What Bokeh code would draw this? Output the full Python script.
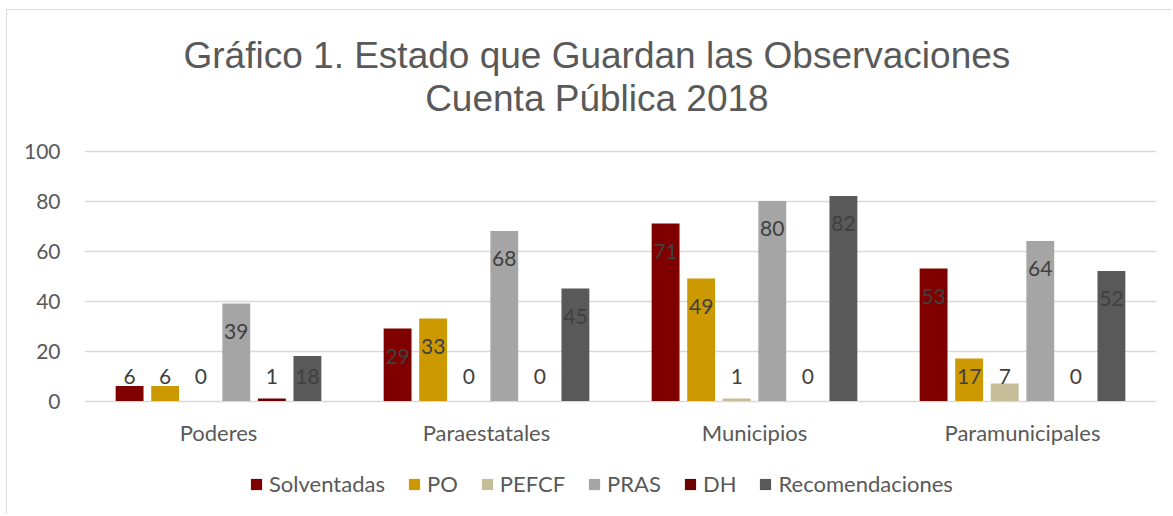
from bokeh.plotting import figure
from bokeh.models import (FactorRange, ColumnDataSource, Label, Legend, LegendItem,
                          FixedTicker, CategoricalAxis)
from bokeh.transform import dodge
from bokeh.core.properties import value
from bokeh.embed import file_html
from bokeh.resources import INLINE

categories = ["Poderes", "Paraestatales", "Municipios", "Paramunicipales"]
series = ["Solventadas", "PO", "PEFCF", "PRAS", "DH", "Recomendaciones"]
solventadas = [6, 29, 71, 53]
po = [6, 33, 49, 17]
pefcf = [0, 0, 1, 7]
pras = [39, 68, 80, 64]
dh = [1, 0, 0, 0]
recomendaciones = [18, 45, 82, 52]
colors = ["#800000", "#CC9900", "#C4BD97", "#A5A5A5", "#6B0000", "#595959"]
y_ticks = [0, 20, 40, 60, 80, 100]
title_lines = ["Gráfico 1. Estado que Guardan las Observaciones", "Cuenta Pública 2018"]

values_by_series = [solventadas, po, pefcf, pras, dh, recomendaciones]

FONT = "Lato"
GREY = "#595959"

p = figure(x_range=FactorRange(*categories, range_padding=0), y_range=(-45.8, 156.2),
           width=1165, height=505, output_backend="svg", toolbar_location=None,
           title=None, x_axis_location=None,
           min_border_left=77, min_border_right=16, min_border_top=0,
           min_border_bottom=0)
p.styles = {"border-top": "1.5px solid #d9d9d9", "border-left": "1.5px solid #d9d9d9",
            "margin-left": "6px", "margin-top": "9px"}
p.outline_line_color = None
p.background_fill_color = "white"
p.border_fill_color = "white"

xaxis = CategoricalAxis(fixed_location=0)
p.add_layout(xaxis, "below")

p.xgrid.grid_line_color = None
p.ygrid.grid_line_color = "#d9d9d9"
p.ygrid.grid_line_width = 1.5
p.yaxis.ticker = FixedTicker(ticks=y_ticks)
for ax in (xaxis, p.yaxis[0]):
    ax.axis_line_color = None
    ax.major_tick_line_color = None
    ax.minor_tick_line_color = None
    ax.major_label_text_font = FONT
    ax.major_label_text_color = GREY
p.yaxis.major_label_text_font_size = "21px"
p.yaxis.major_label_standoff = 18
xaxis.major_label_text_font_size = "22px"
xaxis.major_label_standoff = 12

slot = 0.1327
bar_w = 0.104
n = len(series)
items = []
for i, (name, vals, col) in enumerate(zip(series, values_by_series, colors)):
    off = (i - (n - 1) / 2) * slot
    label_y = [max(v - 11, 10) for v in vals]
    src = ColumnDataSource(dict(cat=categories, v=vals, ly=label_y,
                                txt=[str(v) for v in vals]))
    r = p.vbar(x=dodge("cat", off, range=p.x_range), top="v", width=bar_w, source=src,
               fill_color=col, line_color=None)
    p.text(x=dodge("cat", off, range=p.x_range), y="ly", text="txt", source=src,
           text_align="center", text_baseline="middle", text_font=value(FONT),
           text_font_size="21px", text_color="#404040")
    items.append(LegendItem(label=name, renderers=[r]))

legend = Legend(items=items, orientation="horizontal", location=(165, 18),
                glyph_width=14, glyph_height=14, label_standoff=6, spacing=22,
                padding=0, margin=0, border_line_color=None, background_fill_alpha=0,
                label_text_font=FONT, label_text_font_size="22px", label_text_color=GREY)
p.add_layout(legend, "center")

for line, ty in zip(title_lines, [138.4, 121.2]):
    p.add_layout(Label(x=1.912, y=ty, text=line, text_align="center",
                       text_baseline="middle", text_font="Liberation Sans",
                       text_font_size="37px", text_color=GREY))

open("out.html", "w").write(file_html(p, INLINE))
